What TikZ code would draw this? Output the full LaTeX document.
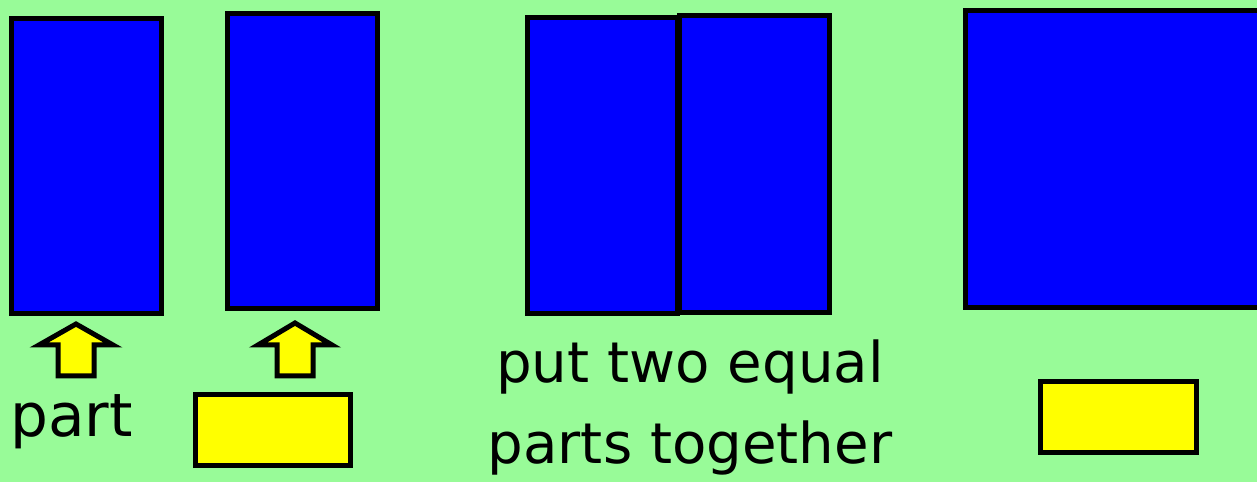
\documentclass[tikz,border=0pt]{standalone}
\usepackage{fontspec}
\setmainfont{DejaVu Sans}
\usetikzlibrary{positioning}

\definecolor{bggreen}{RGB}{152,251,152}
\definecolor{partblue}{RGB}{0,0,255}
\definecolor{partyellow}{RGB}{255,255,0}

\begin{document}
\begin{tikzpicture}[
    x=0.02cm, y=-0.02cm,
    part/.style={rectangle, draw, line width=0.1cm, fill=partblue, inner sep=0pt, minimum width=3.02cm, minimum height=5.92cm},
    slot/.style={rectangle, draw, line width=0.1cm, fill=partyellow, inner sep=0pt, minimum width=3.12cm, minimum height=1.44cm},
    uparrow/.style={draw, line width=0.1cm, fill=partyellow, line join=miter},
    label/.style={inner sep=0pt, font=\fontsize{32}{38}\selectfont}
]
\fill[bggreen] (0,0) rectangle (1257,482);
\useasboundingbox (0,0) rectangle (1257,482);

% the blue parts
\node [part] (half1) at (86.5,166) {};
\node [part] (half2) at (302.5,161) {};
\node [part, minimum height=5.94cm] (joinL) at (602.5,165.5) {};
\node [part, minimum height=5.96cm] (joinR) at (754.5,164) {};
\begin{scope}
\clip (0,0) rectangle (1257,482);
\node [part, minimum width=6.4cm, minimum height=5.96cm] (whole) at (1125,159) {};
\end{scope}

% yellow boxes
\node [slot] (slot1) at (273,430) {};
\node [slot] (slot2) at (1118,417) {};

% arrows under the halves
\draw [uparrow] (76,324) -- ++(37,21) -- ++(-19,0) -- ++(0,31) -- ++(-36,0) -- ++(0,-31) -- ++(-19,0) -- cycle;
\draw [uparrow] (295,323) -- ++(37,22) -- ++(-19,0) -- ++(0,31) -- ++(-36,0) -- ++(0,-31) -- ++(-19,0) -- cycle;

% texts
\node [label, font=\fontsize{34}{40}\selectfont, anchor=base west] (partlbl) at (10,437) {part};
\node [label, anchor=base] (line1) at (690,383) {put two equal};
\node [label, anchor=base] (line2) at (690,463) {parts together};
\end{tikzpicture}
\end{document}
